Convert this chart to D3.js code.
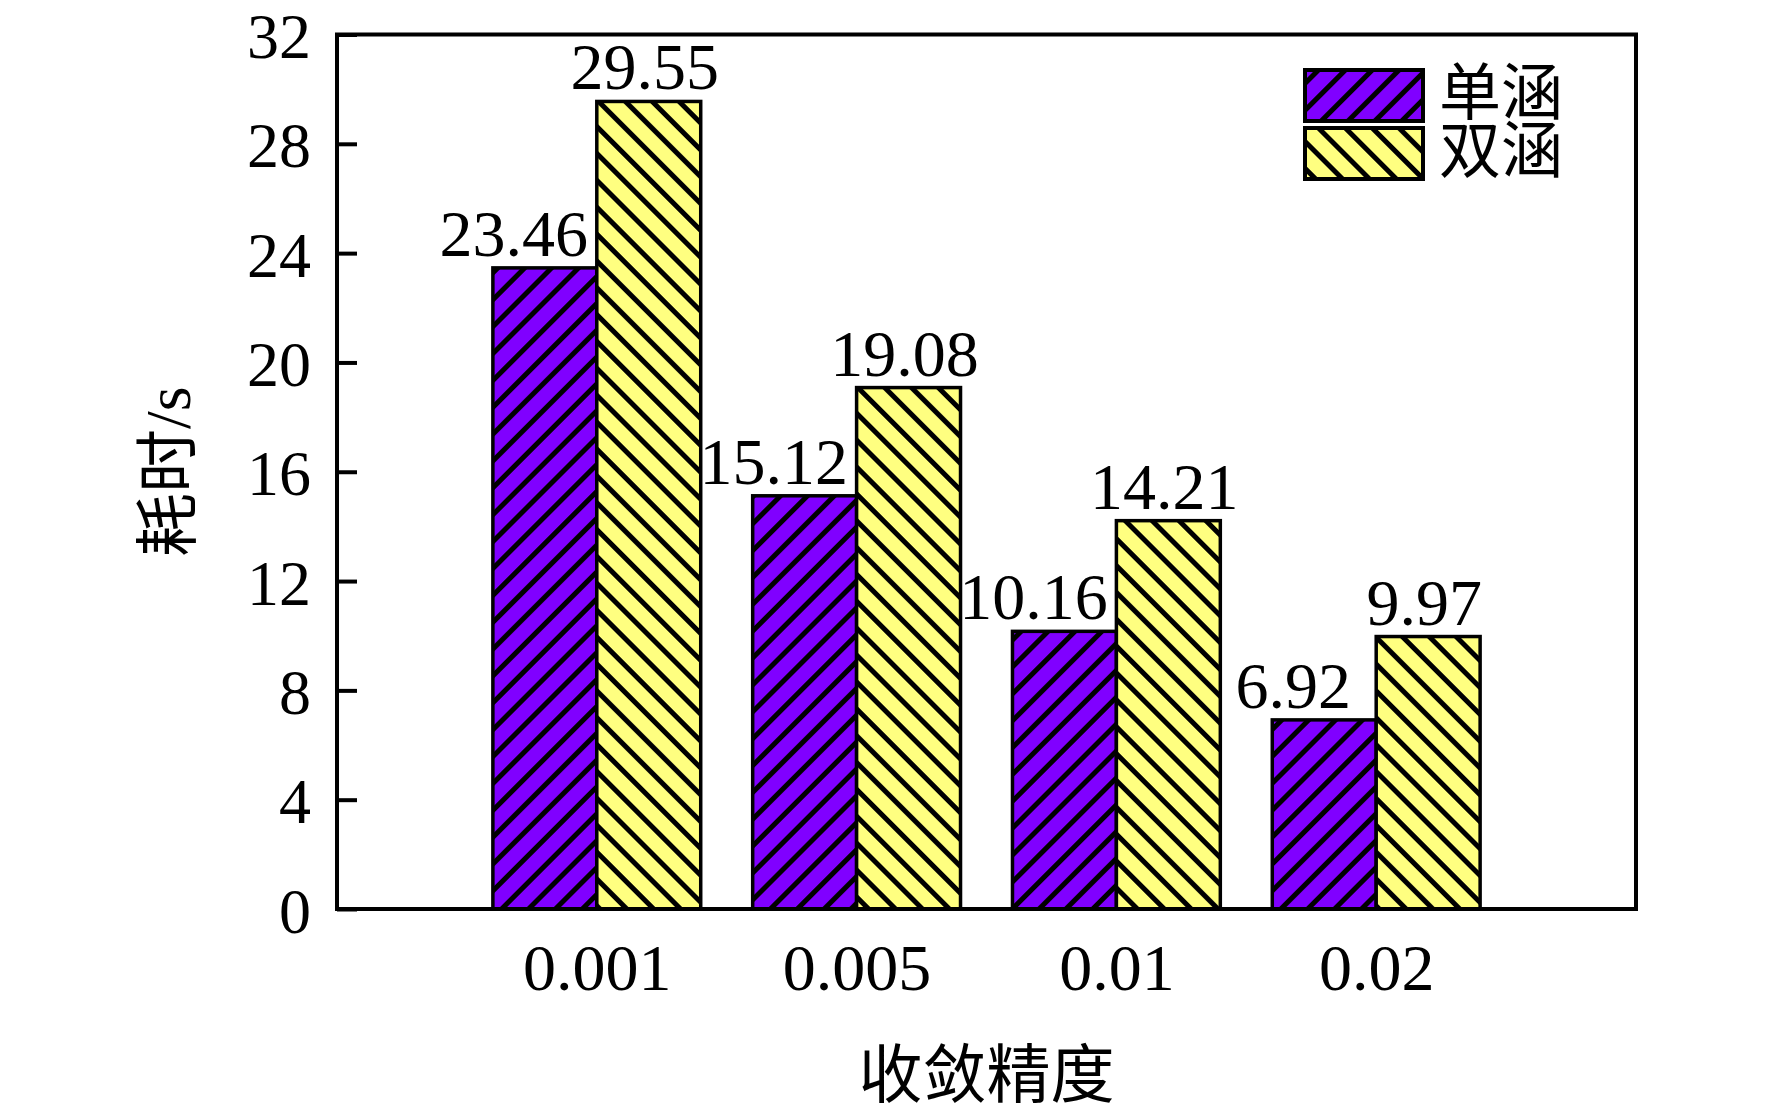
<!DOCTYPE html>
<html>
<head>
<meta charset="utf-8">
<script src="https://cdn.jsdelivr.net/npm/d3@7"></script>
<style>
	body { margin: 0; background: #fff; }
	svg { display: block; }
</style>
</head>
<body>
<div id="chart"></div>
<script>
// data
const categories = ["0.001", "0.005", "0.01", "0.02"];
const seriesNames = ["单涵", "双涵"];
const singleValues = [23.46, 15.12, 10.16, 6.92];
const doubleValues = [29.55, 19.08, 14.21, 9.97];
const yTicks = [0, 4, 8, 12, 16, 20, 24, 28, 32];

const width = 1772;
const height = 1111;
const plot = { left: 337, right: 1636, top: 34.5, bottom: 909 };
const serif = "'Times New Roman', 'Liberation Serif', serif";
const cjk = "'Liberation Serif', 'Noto Sans CJK SC', serif";

const series = [
	{ name: seriesNames[0], values: singleValues, fill: "#8000ff", pat: "hatch-a", rot: 45, dx: -31 },
	{ name: seriesNames[1], values: doubleValues, fill: "#ffff80", pat: "hatch-b", rot: -45, dx: -4 },
];

const svg = d3
	.select("#chart")
	.append("svg")
	.attr("width", width)
	.attr("height", height);

// hatch patterns
const defs = svg.append("defs");
series.forEach((s) => {
	const p = defs
		.append("pattern")
		.attr("id", s.pat)
		.attr("patternUnits", "userSpaceOnUse")
		.attr("width", 19)
		.attr("height", 19)
		.attr("patternTransform", `rotate(${s.rot})`);
	p.append("rect").attr("width", 19).attr("height", 19).attr("fill", s.fill);
	p.append("line")
		.attr("x1", 9.5)
		.attr("x2", 9.5)
		.attr("y1", 0)
		.attr("y2", 19)
		.attr("stroke", "#000")
		.attr("stroke-width", 5);
});

// scales
const x = d3
	.scalePoint()
	.domain(categories)
	.range([plot.left, plot.right])
	.padding(1);
const barW = x.step() * 0.4;

const y = d3
	.scaleLinear()
	.domain([0, 32])
	.range([plot.bottom, plot.top]);

// bars
series.forEach((s, si) => {
	const g = svg.append("g").attr("class", "bars-" + si);
	g.selectAll("rect")
		.data(s.values)
		.enter()
		.append("rect")
		.attr("x", (d, i) => x(categories[i]) - barW + si * barW)
		.attr("y", (d) => y(d))
		.attr("width", barW)
		.attr("height", (d) => y(0) - y(d))
		.attr("fill", `url(#${s.pat})`)
		.attr("stroke", "#000")
		.attr("stroke-width", 3.5);

	g.selectAll("text")
		.data(s.values)
		.enter()
		.append("text")
		.attr("x", (d, i) => x(categories[i]) - barW / 2 + si * barW + s.dx)
		.attr("y", (d) => y(d) - 12)
		.attr("text-anchor", "middle")
		.attr("font-family", serif)
		.attr("font-size", "66px")
		.attr("fill", "#000")
		.text((d) => d.toFixed(2));
});

// axes
const yAxis = d3
	.axisLeft(y)
	.tickValues(yTicks)
	.tickSizeInner(-20)
	.tickSizeOuter(0)
	.tickPadding(26);
const yg = svg
	.append("g")
	.attr("class", "y-axis")
	.attr("transform", `translate(${plot.left}, 0)`)
	.call(yAxis);
yg.select(".domain").remove();
yg.selectAll("line").attr("stroke", "#000").attr("stroke-width", 4);
yg.selectAll("text")
	.attr("font-family", serif)
	.attr("font-size", "64px")
	.attr("fill", "#000")
	.attr("dy", "0.36em");

const xAxis = d3.axisBottom(x).tickSize(0).tickPadding(34);
const xg = svg
	.append("g")
	.attr("class", "x-axis")
	.attr("transform", `translate(0, ${plot.bottom})`)
	.call(xAxis);
xg.select(".domain").remove();
xg.selectAll("text")
	.attr("font-family", serif)
	.attr("font-size", "66px")
	.attr("fill", "#000");

// frame
svg.append("rect")
	.attr("x", plot.left)
	.attr("y", plot.top)
	.attr("width", plot.right - plot.left)
	.attr("height", plot.bottom - plot.top)
	.attr("fill", "none")
	.attr("stroke", "#000")
	.attr("stroke-width", 4);

// axis titles
svg.append("text")
	.attr("x", (plot.left + plot.right) / 2)
	.attr("y", 1097)
	.attr("text-anchor", "middle")
	.attr("font-family", cjk)
	.attr("font-size", "64px")
	.attr("fill", "#000")
	.text("收敛精度");

svg.append("text")
	.attr("transform", `translate(168, ${(plot.top + plot.bottom) / 2}) rotate(-90)`)
	.attr("text-anchor", "middle")
	.attr("dominant-baseline", "central")
	.attr("font-family", cjk)
	.attr("font-size", "64px")
	.attr("fill", "#000")
	.text("耗时/s");

// legend
const legend = svg
	.append("g")
	.attr("class", "legend")
	.attr("transform", "translate(1305, 70)");
const items = legend
	.selectAll("g")
	.data(series)
	.enter()
	.append("g")
	.attr("transform", (d, i) => `translate(0, ${i * 58})`);
items.append("rect")
	.attr("width", 118)
	.attr("height", 51)
	.attr("fill", (d) => `url(#${d.pat})`)
	.attr("stroke", "#000")
	.attr("stroke-width", 4);
items.append("text")
	.attr("x", 134)
	.attr("y", 45)
	.attr("font-family", "'Noto Sans CJK SC', sans-serif")
	.attr("font-size", "62px")
	.attr("fill", "#000")
	.text((d) => d.name);
</script>
</body>
</html>
